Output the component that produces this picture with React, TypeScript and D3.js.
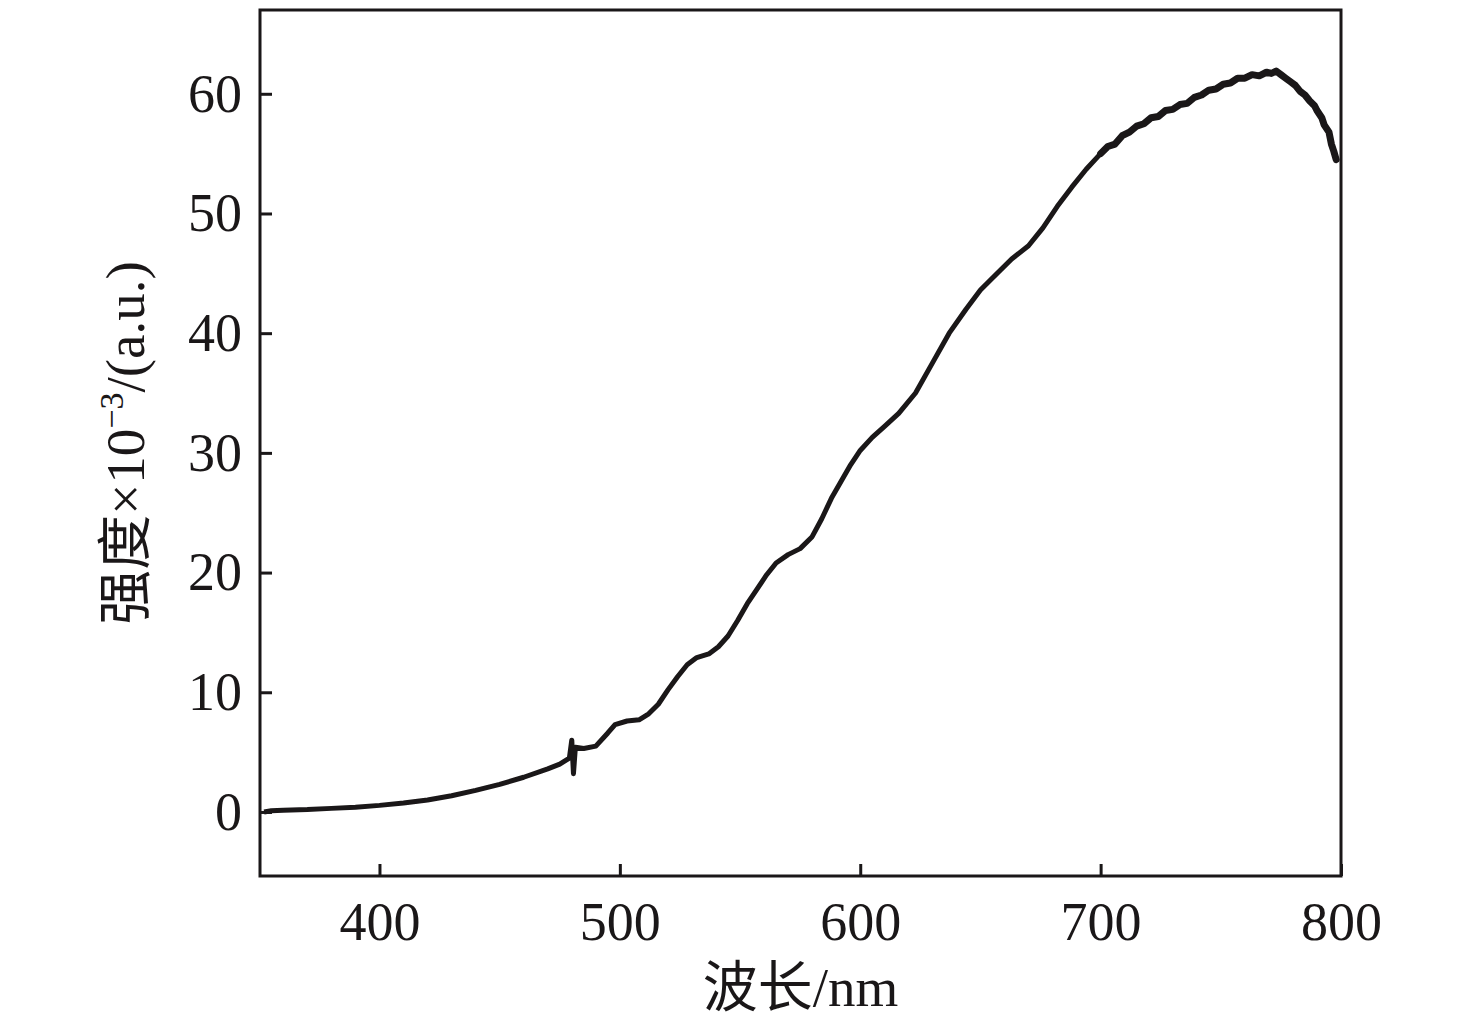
import { useEffect, useRef, type FC } from "react";
import * as d3 from "d3";

// wavelength (nm) and intensity x10^-3 (a.u.)
const wavelength = [
  352, 355, 360, 370, 380, 390, 400, 410, 420, 430, 440, 450, 460, 470, 475,
  479, 480, 480.7, 481.5, 485, 490, 495, 498, 503, 508, 512, 516, 520, 524,
  528, 532, 537, 541, 545, 549, 553, 557, 561, 565, 570, 575, 580, 584, 588,
  592, 596, 600, 605, 610, 616, 623, 630, 637, 644, 650, 657, 663, 670, 676,
  682, 688, 694, 700, 703, 706, 709, 712, 715, 718, 721, 724, 727, 730, 733,
  736, 739, 742, 745, 748, 751, 754, 757, 760, 763, 766, 769, 771, 773, 775,
  777, 779, 781, 783, 785, 787, 789, 790, 792, 793, 795, 796, 797, 798,
];
const intensity = [
  0.0, 0.1, 0.15, 0.2, 0.3, 0.4, 0.55, 0.75, 1.0, 1.35, 1.8, 2.3, 2.9, 3.6,
  4.0, 4.5, 6.0, 3.2, 5.4, 5.3, 5.5, 6.6, 7.3, 7.6, 7.7, 8.2, 9.0, 10.2, 11.3,
  12.3, 12.9, 13.2, 13.8, 14.7, 16.0, 17.4, 18.6, 19.8, 20.8, 21.5, 22.0, 23.0,
  24.5, 26.2, 27.6, 29.0, 30.2, 31.3, 32.2, 33.3, 35.0, 37.5, 40.0, 42.0, 43.6,
  45.0, 46.2, 47.3, 48.8, 50.6, 52.2, 53.7, 55.0, 55.6, 55.8, 56.5, 56.8, 57.3,
  57.5, 58.0, 58.1, 58.6, 58.7, 59.1, 59.2, 59.7, 59.9, 60.3, 60.4, 60.8,
  60.9, 61.3, 61.3, 61.6, 61.5, 61.8, 61.7, 61.9, 61.6, 61.3, 61.0, 60.7,
  60.2, 59.9, 59.4, 59.0, 58.6, 58.0, 57.4, 56.8, 55.8, 55.2, 54.5,
];

const xTicks = [400, 500, 600, 700, 800];
const yTicks = [0, 10, 20, 30, 40, 50, 60];

const W = 1476;
const H = 1033;
const margin = { top: 10, right: 135, bottom: 157, left: 260 };
const ink = "#1a1718";

const Chart: FC = () => {
  const svgRef = useRef<SVGSVGElement | null>(null);

  useEffect(() => {
    if (!svgRef.current) return;
    d3.select(svgRef.current).selectAll("*").remove();

    const svg = d3.select(svgRef.current).attr("width", W).attr("height", H);
    const iw = W - margin.left - margin.right;
    const ih = H - margin.top - margin.bottom;
    const g = svg
      .append("g")
      .attr("transform", `translate(${margin.left},${margin.top})`);

    const x = d3.scaleLinear().domain([350.3, 800]).range([0, iw]);
    const y = d3.scaleLinear().domain([-5.35, 67]).range([ih, 0]);

    const font = "'Liberation Serif', 'Times New Roman', 'Noto Sans CJK SC', serif";

    // curve (the noisy red end of the spectrum reads thicker)
    const pts = wavelength.map((w, i) => [w, intensity[i]] as [number, number]);
    const line = d3
      .line<[number, number]>()
      .x((d) => x(d[0]))
      .y((d) => y(d[1]));
    g.append("path")
      .datum(pts)
      .attr("d", line)
      .attr("fill", "none")
      .attr("stroke", ink)
      .attr("stroke-width", 5)
      .attr("stroke-linejoin", "round");
    g.append("path")
      .datum(pts.filter((d) => d[0] >= 700))
      .attr("d", line)
      .attr("fill", "none")
      .attr("stroke", ink)
      .attr("stroke-width", 7)
      .attr("stroke-linejoin", "round")
      .attr("stroke-linecap", "round");

    // frame
    g.append("rect")
      .attr("width", iw)
      .attr("height", ih)
      .attr("fill", "none")
      .attr("stroke", ink)
      .attr("stroke-width", 3);

    // x axis
    const xa = g
      .append("g")
      .attr("transform", `translate(0,${ih})`)
      .call(
        d3
          .axisBottom(x)
          .tickValues(xTicks)
          .tickSizeInner(-12)
          .tickSizeOuter(0)
          .tickPadding(26)
          .tickFormat(d3.format("d"))
      );
    xa.select(".domain").remove();
    xa.selectAll("line").attr("stroke", ink).attr("stroke-width", 3);
    xa.selectAll("text")
      .attr("font-family", font)
      .attr("font-size", 54)
      .attr("fill", ink);

    // y axis
    const ya = g.append("g").call(
      d3
        .axisLeft(y)
        .tickValues(yTicks)
        .tickSizeInner(-12)
        .tickSizeOuter(0)
        .tickPadding(18)
        .tickFormat(d3.format("d"))
    );
    ya.select(".domain").remove();
    ya.selectAll("line").attr("stroke", ink).attr("stroke-width", 3);
    ya.selectAll("text")
      .attr("font-family", font)
      .attr("font-size", 54)
      .attr("fill", ink);

    // axis titles
    svg
      .append("text")
      .attr("x", margin.left + iw / 2)
      .attr("y", 1006)
      .attr("text-anchor", "middle")
      .attr("font-family", font)
      .attr("font-size", 55)
      .attr("fill", ink)
      .text("波长/nm");

    const yt = svg
      .append("text")
      .attr("transform", `translate(144,${margin.top + ih / 2}) rotate(-90)`)
      .attr("text-anchor", "middle")
      .attr("font-family", font)
      .attr("font-size", 55)
      .attr("fill", ink);
    yt.append("tspan").text("强度×10");
    yt.append("tspan")
      .attr("font-size", 34)
      .attr("dy", -21)
      .text("−3");
    yt.append("tspan").attr("dy", 21).text("/(a.u.)");
  }, []);

  return (
    <svg
      ref={svgRef}
      style={{ position: "absolute", left: 0, top: 0, background: "#fff" }}
    ></svg>
  );
};

export default function App() {
  return <Chart />;
}
